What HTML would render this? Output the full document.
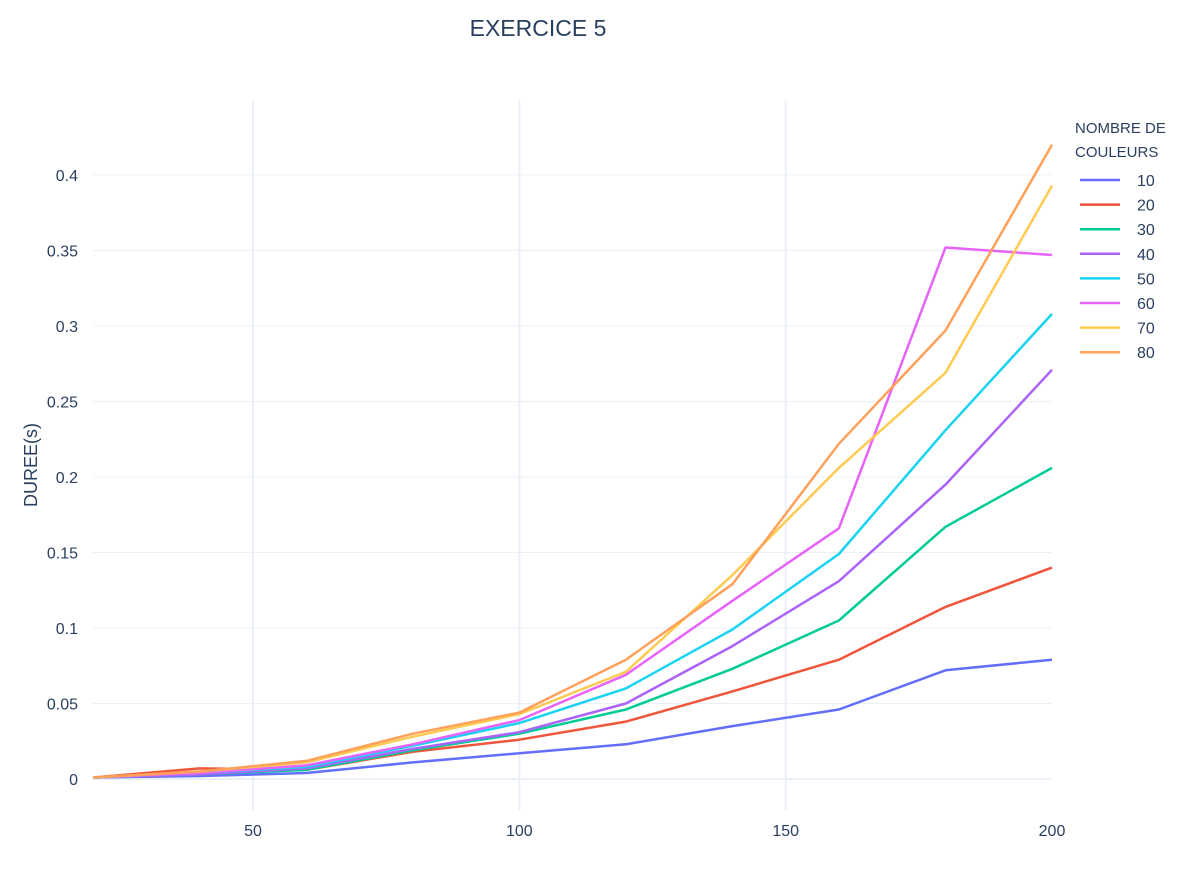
<!DOCTYPE html>
<html><head><meta charset="utf-8">
<style>
body{margin:0;background:#fff;font-family:"Liberation Sans","Open Sans",sans-serif;}
svg text{font-family:"Liberation Sans",sans-serif;fill:#2a3f5f;}
</style></head>
<body>
<svg id="chart" width="1198" height="870" xmlns="http://www.w3.org/2000/svg">
<rect width="1198" height="870" fill="#fff"/>
<text x="538" y="36" font-size="23" text-anchor="middle">EXERCICE 5</text>
<text transform="translate(37,465) rotate(-90)" font-size="18" text-anchor="middle">DUREE(s)</text>
<g id="grid"></g><g id="lines"></g><g id="ticks"></g><g id="legend"></g>
</svg>
<script>
const xValues=[20,40,60,80,100,120,140,160,180,200];
const seriesNames=["10","20","30","40","50","60","70","80"];
const s10=[0.001,0.002,0.004,0.011,0.017,0.023,0.035,0.046,0.072,0.079];
const s20=[0.001,0.007,0.006,0.018,0.026,0.038,0.058,0.079,0.114,0.140];
const s30=[0.001,0.003,0.006,0.019,0.030,0.046,0.073,0.105,0.167,0.206];
const s40=[0.001,0.003,0.007,0.020,0.031,0.050,0.088,0.131,0.195,0.271];
const s50=[0.001,0.004,0.008,0.022,0.037,0.060,0.099,0.149,0.231,0.308];
const s60=[0.001,0.004,0.009,0.023,0.039,0.069,0.118,0.166,0.352,0.347];
const s70=[0.001,0.005,0.011,0.028,0.043,0.071,0.135,0.206,0.269,0.393];
const s80=[0.001,0.005,0.012,0.030,0.044,0.079,0.129,0.222,0.297,0.420];
const xTicks=[50,100,150,200];
const yTicks=[0,0.05,0.1,0.15,0.2,0.25,0.3,0.35,0.4];
const yTickLabels=["0","0.05","0.1","0.15","0.2","0.25","0.3","0.35","0.4"];
const allSeries=[s10,s20,s30,s40,s50,s60,s70,s80];
const colors=["#636efa","#ef553b","#00cc96","#ab63fa","#19d3f3","#e763fa","#fecb52","#ffa15a"];
const NS="http://www.w3.org/2000/svg";
const X0=93,X1=1052,Y0=100,Y1=810;
const xs=v=>253+(v-50)*(1052-253)/150;
const ys=v=>779-v*(779-175)/0.4;
function mk(tag,attrs,parent){const e=document.createElementNS(NS,tag);for(const k in attrs)e.setAttribute(k,attrs[k]);document.getElementById(parent).appendChild(e);return e;}
xTicks.forEach(t=>{
 if(t<200){const g=mk("line",{x1:xs(t),x2:xs(t),y1:Y0,y2:Y1,stroke:"#ebf0f8","stroke-width":2},"grid");
 
 }
 const l=mk("text",{x:xs(t),y:836,"font-size":16,"text-anchor":"middle"},"ticks");l.textContent=t;
 
 
});
yTicks.forEach((t,i)=>{
 const g=mk("line",{x1:X0,x2:X1,y1:ys(t),y2:ys(t),stroke:"#ebf0f8","stroke-width":t===0?2:1},"grid");
 
 
 const l=mk("text",{x:78,y:ys(t)+6,"font-size":16,"text-anchor":"end"},"ticks");l.textContent=yTickLabels[i];
 
 
});
allSeries.forEach((s,i)=>{
 const pts=s.map((v,j)=>xs(xValues[j]).toFixed(1)+","+ys(v).toFixed(1)).join(" ");
 const p=mk("polyline",{points:pts,fill:"none",stroke:colors[i],"stroke-width":2.5,"stroke-linejoin":"round"},"lines");
 
 
});
const lt1=mk("text",{x:1075,y:133,"font-size":15},"legend");lt1.textContent="NOMBRE DE";


const lt2=mk("text",{x:1075,y:157,"font-size":15},"legend");lt2.textContent="COULEURS";


seriesNames.forEach((n,i)=>{
 const y=180+i*24.6;
 const l=mk("line",{x1:1080,x2:1120,y1:y,y2:y,stroke:colors[i],"stroke-width":2.5},"legend");
 
 
 const t=mk("text",{x:1137,y:y+6,"font-size":16},"legend");t.textContent=n;
 
 
});
</script>
</body></html>
